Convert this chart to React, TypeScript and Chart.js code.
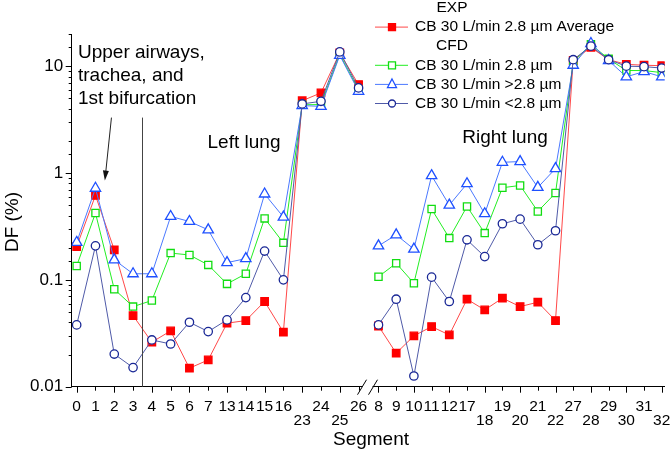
import React, { useEffect, useRef } from 'react';
import { Chart, registerables } from 'chart.js';

Chart.register(...registerables);

const FONT = 'Arial, "Liberation Sans", sans-serif';

// segment order along the broken x axis (left lung part | right lung part)
const leftSegments = ['0', '1', '2', '3', '4', '5', '6', '7', '13', '14', '15', '16', '23', '24', '25', '26'];
const rightSegments = ['8', '9', '10', '11', '12', '17', '18', '19', '20', '21', '22', '27', '28', '29', '30', '31', '32'];
const lowerRowLabels = ['23', '25', '18', '20', '22', '28', '30', '32'];

// DF (%) per segment
const expLeft = [0.205, 0.617, 0.191, 0.0463, 0.0261, 0.0333, 0.0149, 0.0178, 0.0393, 0.0416, 0.0627, 0.0324, 4.75, 5.62, 13.3, 6.72];
const expRight = [0.037, 0.0206, 0.0299, 0.0365, 0.0305, 0.0659, 0.0523, 0.0674, 0.0562, 0.0618, 0.0416, 11.3, 15.0, 11.5, 10.4, 10.2, 10.1];
const cfdLeft = [0.135, 0.422, 0.0818, 0.0562, 0.064, 0.178, 0.171, 0.138, 0.0917, 0.114, 0.376, 0.222, 4.35, 4.37, 12.9, 6.0];
const cfdRight = [0.107, 0.143, 0.093, 0.46, 0.246, 0.486, 0.274, 0.728, 0.765, 0.437, 0.649, 10.9, 16.0, 11.7, 9.1, 9.1, 8.7];
const largeLeft = [0.224, 0.72, 0.154, 0.114, 0.114, 0.392, 0.352, 0.294, 0.145, 0.158, 0.636, 0.387, 4.27, 4.21, 12.6, 5.82];
const largeRight = [0.208, 0.264, 0.194, 0.944, 0.501, 0.794, 0.416, 1.26, 1.28, 0.733, 1.1, 10.2, 16.3, 11.3, 7.95, 8.9, 7.95];
const smallLeft = [0.0379, 0.208, 0.0202, 0.0151, 0.0274, 0.0251, 0.0401, 0.0328, 0.0422, 0.0682, 0.186, 0.1, 4.43, 4.69, 13.6, 6.26];
const smallRight = [0.0379, 0.0659, 0.0126, 0.106, 0.0627, 0.237, 0.165, 0.335, 0.37, 0.213, 0.288, 11.5, 15.4, 11.5, 10.0, 9.9, 9.6];

// broken axis: the right part is slightly compressed
const RIGHT_START = 16.06;
const RIGHT_STEP = 0.942;
const leftX = (i: number) => i;
const rightX = (j: number) => RIGHT_START + j * RIGHT_STEP;
const BREAK_X = (leftX(leftSegments.length - 1) + rightX(0)) / 2;
const tickPositions = [...leftSegments.map((_, i) => leftX(i)), ...rightSegments.map((_, j) => rightX(j))];
const tickLabels = [...leftSegments, ...rightSegments];

const series = (left: number[], right: number[]) => [
  ...left.map((y, i) => ({ x: leftX(i), y })),
  { x: BREAK_X, y: null },
  ...right.map((y, j) => ({ x: rightX(j), y })),
];

const styles = {
  exp: { line: 'rgba(255,40,40,0.85)', point: '#ff0000', fill: '#ff0000', shape: 'rect' },
  cfd: { line: '#22ee22', point: '#11dd11', fill: '#ffffff', shape: 'rect' },
  large: { line: '#4a78ff', point: '#1e50ff', fill: '#ffffff', shape: 'triangle' },
  small: { line: '#4f5aa8', point: '#1a2896', fill: '#ffffff', shape: 'circle' },
};

const legendRows = [
  { header: 'EXP' },
  { label: 'CB 30 L/min 2.8 µm Average', style: styles.exp },
  { header: 'CFD' },
  { label: 'CB 30 L/min 2.8 µm', style: styles.cfd },
  { label: 'CB 30 L/min >2.8 µm', style: styles.large },
  { label: 'CB 30 L/min <2.8 µm', style: styles.small },
];

const isDecade = (v: number) => Math.abs(Math.log10(v) - Math.round(Math.log10(v))) < 1e-6;

function marker(ctx: CanvasRenderingContext2D, shape: string, x: number, y: number, s: number, stroke: string, fill: string) {
  ctx.beginPath();
  if (shape === 'rect') {
    ctx.rect(x - s / 2, y - s / 2, s, s);
  } else if (shape === 'triangle') {
    ctx.moveTo(x, y - s * 0.6);
    ctx.lineTo(x + s / 2, y + s * 0.35);
    ctx.lineTo(x - s / 2, y + s * 0.35);
    ctx.closePath();
  } else {
    ctx.arc(x, y, s / 2, 0, Math.PI * 2);
  }
  ctx.fillStyle = fill;
  ctx.fill();
  ctx.lineWidth = 1.3;
  ctx.strokeStyle = stroke;
  ctx.stroke();
}

const decorPlugin = {
  id: 'decor',
  afterDraw(chart: any) {
    const { ctx, chartArea: a, scales } = chart;
    const x = scales.x;
    const y = scales.y;
    ctx.save();
    ctx.strokeStyle = '#000';
    ctx.lineWidth = 1;

    // tick marks
    x.ticks.forEach((t: any, i: number) => {
      const px = Math.round(x.getPixelForValue(t.value)) + 0.5;
      const len = i % 2 === 0 ? 6 : 4;
      ctx.beginPath();
      ctx.moveTo(px, a.bottom);
      ctx.lineTo(px, a.bottom + len);
      ctx.stroke();
    });
    y.ticks.forEach((t: any) => {
      const py = Math.round(y.getPixelForValue(t.value)) + 0.5;
      const len = isDecade(t.value) ? 6 : 3;
      ctx.beginPath();
      ctx.moveTo(a.left - len, py);
      ctx.lineTo(a.left, py);
      ctx.stroke();
    });

    // axis break
    const bx = x.getPixelForValue(BREAK_X);
    ctx.fillStyle = '#fff';
    ctx.fillRect(bx - 6, a.bottom - 2, 10, 4);
    ctx.beginPath();
    ctx.moveTo(bx - 11, a.bottom + 8);
    ctx.lineTo(bx - 2, a.bottom - 7);
    ctx.moveTo(bx, a.bottom + 8);
    ctx.lineTo(bx + 9, a.bottom - 7);
    ctx.stroke();

    // separator between upper airways and left lung
    const sx = Math.round(x.getPixelForValue(3.5)) + 0.5;
    ctx.strokeStyle = '#444';
    ctx.beginPath();
    ctx.moveTo(sx, y.getPixelForValue(3.3));
    ctx.lineTo(sx, a.bottom);
    ctx.stroke();

    // arrow to the bifurcation peak
    const ax0 = x.getPixelForValue(1.85);
    const ay0 = y.getPixelForValue(3.3);
    const ax1 = x.getPixelForValue(1.5);
    const ay1 = y.getPixelForValue(0.85);
    const ang = Math.atan2(ay1 - ay0, ax1 - ax0);
    ctx.strokeStyle = '#222';
    ctx.beginPath();
    ctx.moveTo(ax0, ay0);
    ctx.lineTo(ax1 - 6 * Math.cos(ang), ay1 - 6 * Math.sin(ang));
    ctx.stroke();
    ctx.fillStyle = '#111';
    ctx.beginPath();
    ctx.moveTo(ax1, ay1);
    ctx.lineTo(ax1 - 10 * Math.cos(ang) + 3 * Math.sin(ang), ay1 - 10 * Math.sin(ang) - 3 * Math.cos(ang));
    ctx.lineTo(ax1 - 10 * Math.cos(ang) - 3 * Math.sin(ang), ay1 - 10 * Math.sin(ang) + 3 * Math.cos(ang));
    ctx.closePath();
    ctx.fill();

    // annotation texts
    ctx.fillStyle = '#000';
    ctx.font = `19px ${FONT}`;
    ctx.textBaseline = 'middle';
    ctx.textAlign = 'left';
    ['Upper airways,', 'trachea, and', '1st bifurcation'].forEach((s, i) => ctx.fillText(s, 78, 53 + i * 23));
    ctx.textAlign = 'center';
    ctx.fillText('Left lung', 244, 143);
    ctx.fillText('Right lung', 505, 138);

    // axis titles
    ctx.fillText('Segment', 371, 440);
    ctx.save();
    ctx.translate(13, 222);
    ctx.rotate(-Math.PI / 2);
    ctx.fillText('DF (%)', 0, 0);
    ctx.restore();

    // legend
    ctx.font = `15.5px ${FONT}`;
    legendRows.forEach((row: any, i: number) => {
      const ry = 8 + i * 19.1;
      if (row.header) {
        ctx.textAlign = 'center';
        ctx.fillStyle = '#000';
        ctx.fillText(row.header, 452, ry);
        return;
      }
      ctx.strokeStyle = row.style.line;
      ctx.lineWidth = 1;
      ctx.beginPath();
      ctx.moveTo(375, ry);
      ctx.lineTo(408, ry);
      ctx.stroke();
      const size = row.style.shape === 'triangle' ? 9 : 7;
      marker(ctx, row.style.shape, 392, ry, size, row.style.point, row.style.fill);
      ctx.textAlign = 'left';
      ctx.fillStyle = '#000';
      ctx.fillText(row.label, 415, ry);
    });
    ctx.restore();
  },
};

const makeDataset = (label: string, data: any[], st: any, radius: number, order: number) => ({
  label,
  data,
  order,
  borderColor: st.line,
  borderWidth: 1,
  pointStyle: st.shape,
  pointRadius: radius,
  pointBorderWidth: 1.3,
  pointBorderColor: st.point,
  pointBackgroundColor: st.fill,
  spanGaps: false,
  tension: 0,
});

export default function App() {
  const canvasRef = useRef<HTMLCanvasElement>(null);

  useEffect(() => {
    if (!canvasRef.current) return;
    const chart = new Chart(canvasRef.current, {
      type: 'line',
      data: {
        datasets: [
          makeDataset('CB 30 L/min 2.8 µm Average', series(expLeft, expRight), styles.exp, 5.3, 4),
          makeDataset('CB 30 L/min 2.8 µm', series(cfdLeft, cfdRight), styles.cfd, 5.1, 3),
          makeDataset('CB 30 L/min >2.8 µm', series(largeLeft, largeRight), styles.large, 6, 2),
          makeDataset('CB 30 L/min <2.8 µm', series(smallLeft, smallRight), styles.small, 4.2, 1),
        ],
      },
      options: {
        animation: false,
        responsive: true,
        maintainAspectRatio: false,
        events: [],
        layout: { padding: { top: 34, right: 4, left: 0, bottom: 0 } },
        plugins: {
          legend: { display: false },
          tooltip: { enabled: false },
        },
        scales: {
          x: {
            type: 'linear',
            min: -0.265,
            max: 31.29,
            afterFit: (s: any) => {
              s.height = 69.3;
              s.paddingLeft = 0;
              s.paddingRight = 0;
            },
            afterBuildTicks: (s: any) => {
              s.ticks = tickPositions.map((value) => ({ value }));
            },
            grid: { display: false, drawTicks: false },
            border: { display: true, color: '#000', width: 1 },
            ticks: {
              autoSkip: false,
              maxRotation: 0,
              padding: 13,
              color: '#000',
              font: { family: FONT, size: 15.5, lineHeight: 0.9 },
              callback: (_v: any, i: number) => {
                const lab = tickLabels[i];
                return lowerRowLabels.includes(lab) ? ['', lab] : lab;
              },
            },
          },
          y: {
            type: 'logarithmic',
            min: 0.01,
            max: 20,
            afterFit: (s: any) => {
              s.width = 71.7;
              s.paddingTop = 0;
              s.paddingBottom = 0;
            },
            grid: { display: false, drawTicks: false },
            border: { display: true, color: '#000', width: 1 },
            ticks: {
              autoSkip: false,
              padding: 8.5,
              color: '#000',
              font: { family: FONT, size: 17 },
              callback: (v: any) => (isDecade(Number(v)) && Number(v) <= 10 ? String(Number(v)) : ''),
            },
          },
        },
      },
      plugins: [decorPlugin],
    });
    return () => chart.destroy();
  }, []);

  return (
    <div style={{ position: 'fixed', left: 0, top: 0, width: 672, height: 456, background: '#fff' }}>
      <canvas ref={canvasRef} />
    </div>
  );
}
